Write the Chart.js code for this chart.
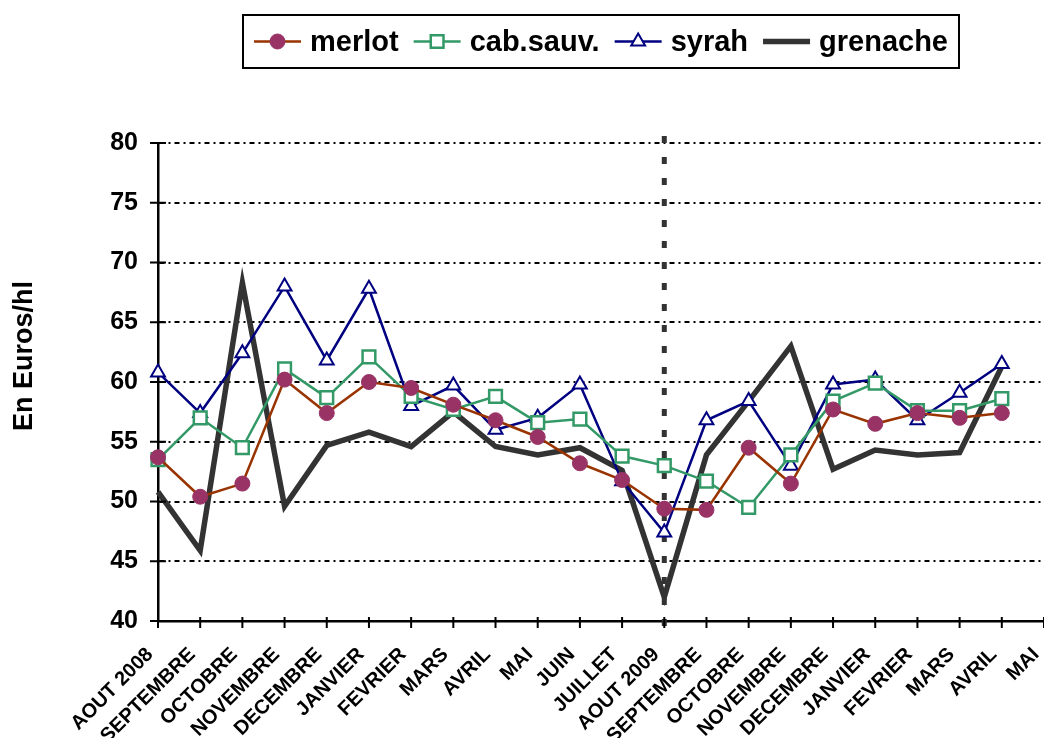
<!DOCTYPE html>
<html>
<head>
<meta charset="utf-8">
<script src="https://cdn.jsdelivr.net/npm/chart.js@4.4.1/dist/chart.umd.min.js"></script>
<style>
  html, body { margin: 0; padding: 0; background: #ffffff; }
  #wrap { width: 1044px; height: 738px; }
</style>
</head>
<body>
<div id="wrap"><canvas id="chart" width="1044" height="738"></canvas></div>
<script>
// mois (août 2008 -> mai 2010)
const months = ['AOUT 2008', 'SEPTEMBRE', 'OCTOBRE', 'NOVEMBRE', 'DECEMBRE', 'JANVIER', 'FEVRIER',
  'MARS', 'AVRIL', 'MAI', 'JUIN', 'JUILLET', 'AOUT 2009', 'SEPTEMBRE', 'OCTOBRE', 'NOVEMBRE',
  'DECEMBRE', 'JANVIER', 'FEVRIER', 'MARS', 'AVRIL', 'MAI'];

// prix en euros/hl
const merlot   = [53.7, 50.4, 51.5, 60.2, 57.4, 60.0, 59.5, 58.1, 56.8, 55.4, 53.2, 51.8, 49.4, 49.3, 54.5, 51.5, 57.7, 56.5, 57.4, 57.0, 57.4];
const cabSauv  = [53.5, 57.0, 54.5, 61.1, 58.7, 62.1, 58.8, 57.7, 58.8, 56.6, 56.9, 53.8, 53.0, 51.7, 49.5, 53.9, 58.4, 59.9, 57.6, 57.6, 58.6];
const syrah    = [60.8, 57.4, 62.4, 68.0, 61.8, 67.8, 58.0, 59.7, 56.0, 57.0, 59.8, 51.7, 47.4, 56.8, 58.4, 53.0, 59.8, 60.2, 56.8, 59.1, 61.5];
const grenache = [50.8, 45.9, 68.3, 49.6, 54.7, 55.8, 54.6, 57.5, 54.6, 53.9, 54.5, 52.6, 42.0, 53.9, 58.4, 63.0, 52.7, 54.3, 53.9, 54.1, 61.3];

const yMin = 40, yMax = 80, yStep = 5;
const splitMonth = 12; // AOUT 2009
const yTitle = 'En Euros/hl';

const FONT = 'Arial, "Liberation Sans", sans-serif';

// ligne verticale pointillée sur août 2009
const splitLine = {
  id: 'splitLine',
  beforeDatasetsDraw(chart) {
    const { ctx, scales: { x, y } } = chart;
    const px = x.getPixelForValue(splitMonth);
    ctx.save();
    ctx.strokeStyle = '#333333';
    ctx.lineWidth = 5;
    ctx.setLineDash([7, 14]);
    ctx.beginPath();
    ctx.moveTo(px, y.top - 7);
    ctx.lineTo(px, y.bottom + 6);
    ctx.stroke();
    ctx.restore();
  }
};

// graduations qui traversent les axes, titre de l'axe Y, légende encadrée
const decorations = {
  id: 'decorations',
  afterDraw(chart) {
    const { ctx, scales: { x, y }, chartArea } = chart;
    ctx.save();
    ctx.strokeStyle = '#000';
    ctx.lineWidth = 2;
    ctx.beginPath();
    x.ticks.forEach((_, i) => {
      const px = x.getPixelForTick(i);
      ctx.moveTo(px, y.bottom - 4);
      ctx.lineTo(px, y.bottom + 7);
    });
    y.ticks.forEach((_, i) => {
      const py = y.getPixelForTick(i);
      ctx.moveTo(x.left - 8, py);
      ctx.lineTo(x.left + 8, py);
    });
    ctx.stroke();

    // titre Y
    ctx.save();
    ctx.translate(25, 356);
    ctx.rotate(-Math.PI / 2);
    ctx.font = 'bold 27px ' + FONT;
    ctx.fillStyle = '#000';
    ctx.textAlign = 'center';
    ctx.textBaseline = 'middle';
    ctx.fillText(yTitle, 0, 0);
    ctx.restore();

    // légende
    ctx.font = 'bold 29px ' + FONT;
    const sampleW = 47, textGap = 9, itemGap = 15, padX = 11;
    const items = chart.data.datasets.map(ds => ({ ds, w: ctx.measureText(ds.label).width }));
    const total = padX * 2 + items.reduce((s, it) => s + sampleW + textGap + it.w, 0) + itemGap * (items.length - 1);
    const cx = (chartArea.left + chartArea.right) / 2;
    const left = Math.round(cx - total / 2), top = 15, h = 53, midY = top + h / 2;
    ctx.lineWidth = 2;
    ctx.strokeStyle = '#000';
    ctx.strokeRect(left, top, total, h);
    let px = left + padX;
    items.forEach(({ ds, w }) => {
      ctx.setLineDash([]);
      ctx.strokeStyle = ds.borderColor;
      ctx.lineWidth = ds.borderWidth;
      ctx.beginPath();
      ctx.moveTo(px, midY);
      ctx.lineTo(px + sampleW, midY);
      ctx.stroke();
      if (ds.pointRadius > 0) {
        ctx.fillStyle = ds.pointBackgroundColor;
        ctx.strokeStyle = ds.pointBorderColor;
        ctx.lineWidth = ds.pointBorderWidth;
        Chart.helpers.drawPoint(ctx, {
          pointStyle: ds.pointStyle, rotation: 0,
          radius: ds.pointRadius, borderWidth: ds.pointBorderWidth
        }, px + sampleW / 2, midY);
      }
      ctx.fillStyle = '#000';
      ctx.textAlign = 'left';
      ctx.textBaseline = 'middle';
      ctx.fillText(ds.label, px + sampleW + textGap, midY + 1);
      px += sampleW + textGap + w + itemGap;
    });
    ctx.restore();
  }
};

new Chart(document.getElementById('chart'), {
  type: 'line',
  data: {
    labels: months,
    datasets: [
      {
        label: 'merlot',
        data: merlot,
        borderColor: '#993300',
        borderWidth: 2.5,
        pointStyle: 'circle',
        pointRadius: 7.5,
        pointBackgroundColor: '#993366',
        pointBorderColor: '#993366',
        pointBorderWidth: 1,
        tension: 0
      },
      {
        label: 'cab.sauv.',
        data: cabSauv,
        borderColor: '#339966',
        borderWidth: 2.5,
        pointStyle: 'rect',
        pointRadius: 9,
        pointBackgroundColor: '#ffffff',
        pointBorderColor: '#339966',
        pointBorderWidth: 2.5,
        tension: 0
      },
      {
        label: 'syrah',
        data: syrah,
        borderColor: '#000080',
        borderWidth: 2.5,
        pointStyle: 'triangle',
        pointRadius: 8,
        pointBackgroundColor: '#ffffff',
        pointBorderColor: '#000080',
        pointBorderWidth: 2,
        tension: 0
      },
      {
        label: 'grenache',
        data: grenache,
        borderColor: '#333333',
        borderWidth: 5.5,
        pointRadius: 0,
        tension: 0
      }
    ]
  },
  options: {
    responsive: false,
    animation: false,
    devicePixelRatio: 1,
    layout: { autoPadding: false, padding: { top: 143, left: 0, right: 0, bottom: 0 } },
    plugins: {
      legend: { display: false },
      tooltip: { enabled: false }
    },
    scales: {
      x: {
        type: 'category',
        offset: false,
        grid: { drawOnChartArea: false, drawTicks: false },
        border: { display: true, color: '#000', width: 2.5 },
        ticks: {
          autoSkip: false,
          maxRotation: 45,
          minRotation: 45,
          padding: 22,
          labelOffset: -8,
          color: '#000',
          font: { family: FONT, size: 20, weight: 'bold' }
        },
        afterFit(scale) {
          scale.height = 117;
          scale.paddingRight = 0;
        }
      },
      y: {
        min: yMin,
        max: yMax,
        grid: {
          drawTicks: false,
          lineWidth: 2,
          color: ctx => (ctx.tick && ctx.tick.value === yMin) ? 'rgba(0,0,0,0)' : '#000'
        },
        border: { display: true, color: '#000', width: 2.5, dash: [5, 4, 2, 4] },
        ticks: {
          stepSize: yStep,
          padding: 20,
          color: '#000',
          font: { family: FONT, size: 25, weight: 'bold' }
        },
        afterFit(scale) {
          scale.width = 158;
        }
      }
    }
  },
  plugins: [splitLine, decorations]
});
</script>
</body>
</html>
